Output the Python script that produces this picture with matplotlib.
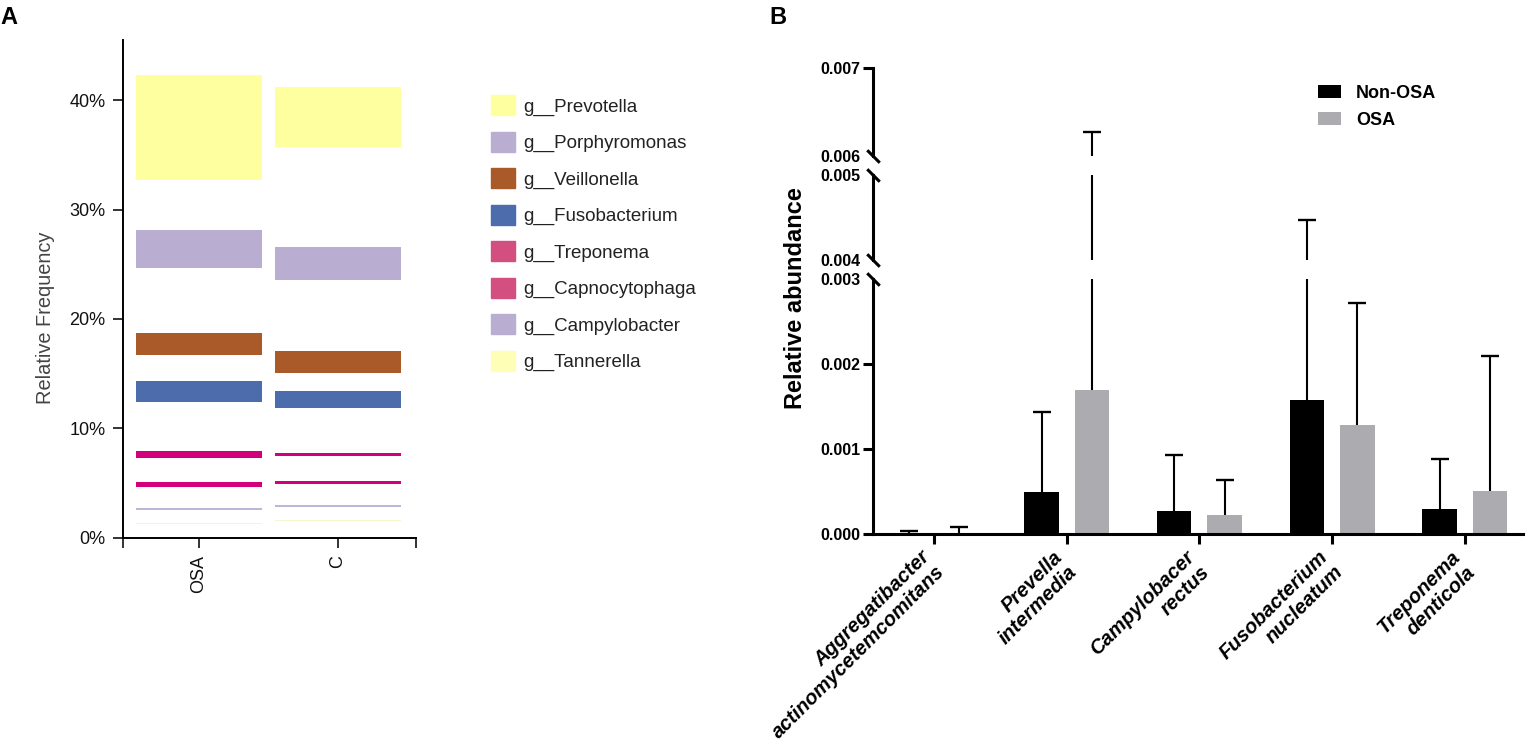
import numpy as np
import matplotlib.pyplot as plt
from matplotlib.patches import Patch
from matplotlib.ticker import FormatStrFormatter

plt.rcParams['font.family'] = ['Liberation Sans', 'DejaVu Sans']

# panel A data (percent, floating range per genus)
groups = ['OSA', 'C']
genera = ['g__Prevotella', 'g__Porphyromonas', 'g__Veillonella', 'g__Fusobacterium',
          'g__Treponema', 'g__Capnocytophaga', 'g__Campylobacter', 'g__Tannerella']
osa_bottom = [32.7, 24.65, 16.7, 12.4, 7.3, 4.65, 2.55, 1.27]
osa_top = [42.3, 28.15, 18.7, 14.35, 7.9, 5.05, 2.7, 1.37]
c_bottom = [35.7, 23.6, 15.05, 11.85, 7.45, 4.9, 2.85, 1.53]
c_top = [41.2, 26.6, 17.1, 13.45, 7.75, 5.15, 3.0, 1.63]
bar_colors = ['#feff9e', '#b9aed2', '#a95a28', '#4c6cab', '#d3007b', '#d3007b', '#bdb6da', '#f5f6cf']
legend_colors = ['#feff9e', '#b9aed2', '#a95a28', '#4c6cab', '#d24f80', '#d24f80', '#b9aed2', '#fefeb6']

# panel B data
species = ['Aggregatibacter\nactinomycetemcomitans', 'Prevella\nintermedia',
           'Campylobacer\nrectus', 'Fusobacterium\nnucleatum', 'Treponema\ndenticola']
non_osa_mean = [0.00001, 0.00049, 0.00027, 0.00158, 0.00029]
non_osa_err = [0.00002, 0.00095, 0.00066, 0.00289, 0.00059]
osa_mean = [0.000005, 0.00169, 0.00022, 0.00128, 0.00051]
osa_err = [0.000077, 0.00458, 0.00041, 0.00144, 0.00158]

fig = plt.figure(figsize=(15.36, 7.51), dpi=100)

# ---------- A ----------
axA = fig.add_axes([0.0799, 0.284, 0.1908, 0.6627])
xA = np.arange(len(groups))
for i in range(len(genera)):
    axA.bar(xA, [osa_top[i] - osa_bottom[i], c_top[i] - c_bottom[i]],
            bottom=[osa_bottom[i], c_bottom[i]], width=0.906, color=bar_colors[i])
axA.set_xlim(-0.549, 1.559)
axA.set_ylim(0, 45.5)
for s in ['top', 'right']:
    axA.spines[s].set_visible(False)
for s in ['left', 'bottom']:
    axA.spines[s].set_linewidth(1.4)
axA.set_yticks([0, 10, 20, 30, 40])
axA.yaxis.set_major_formatter(FormatStrFormatter('%d%%'))
axA.set_xticks(xA)
axA.set_xticklabels(groups, rotation=90)
axA.set_xticks([-0.549, 1.559], minor=True)
axA.tick_params(which='both', length=7.5, width=1.2, labelsize=13, pad=5, colors='#111')
axA.set_ylabel('Relative Frequency', fontsize=14.4, color='#444')
axA.yaxis.set_label_coords(-0.231, 0.441)

fig.legend([Patch(color=c) for c in legend_colors], genera, loc='upper left',
           bbox_to_anchor=(0.3197, 0.8735), frameon=False, fontsize=13.5,
           handlelength=1.28, handleheight=1.28, handletextpad=0.43,
           labelspacing=0.85, borderpad=0, borderaxespad=0, labelcolor='#222')

# ---------- B (broken y axis) ----------
left, width = 0.5684, 0.4232
bot = fig.add_axes([left, 0.2889, width, 0.3396])
mid = fig.add_axes([left, 0.6538, width, 0.1132])
top = fig.add_axes([left, 0.7923, width, 0.1172])

xB = np.arange(len(species))
w = 0.26
off = 0.19
for ax in [bot, mid, top]:
    b1 = ax.bar(xB - off, non_osa_mean, w, color='black', label='Non-OSA')
    b2 = ax.bar(xB + off, osa_mean, w, color='#acacb0', label='OSA')
    for xs, m, e in [(xB - off, non_osa_mean, non_osa_err), (xB + off, osa_mean, osa_err)]:
        eb = ax.errorbar(xs, m, yerr=[np.zeros(len(m)), e], fmt='none', ecolor='black',
                         elinewidth=1.5, capsize=6.5, capthick=1.7)
        eb[2][0].set_capstyle('butt')
        eb[1][0].set_visible(False)
    ax.set_xlim(-0.46, 4.44)
    for s in ['top', 'right']:
        ax.spines[s].set_visible(False)
    ax.spines['left'].set_linewidth(2.2)
    ax.yaxis.set_major_formatter(FormatStrFormatter('%.3f'))
    ax.tick_params(axis='y', length=7, width=2.2, labelsize=11.5, pad=2)

bot.set_ylim(0, 0.003)
mid.set_ylim(0.004, 0.005)
top.set_ylim(0.006, 0.007)
bot.set_yticks([0, 0.001, 0.002, 0.003])
mid.set_yticks([0.004, 0.005])
top.set_yticks([0.006, 0.007])
for ax in [bot, mid, top]:
    for lab in ax.get_yticklabels():
        lab.set_fontweight('bold')
bot.yaxis.get_major_ticks()[-1].tick1line.set_visible(False)
for t in mid.yaxis.get_major_ticks():
    t.tick1line.set_visible(False)
top.yaxis.get_major_ticks()[0].tick1line.set_visible(False)

for ax in [mid, top]:
    ax.spines['bottom'].set_visible(False)
    ax.set_xticks([])
bot.spines['bottom'].set_linewidth(2.2)
bot.set_xticks(xB)
bot.set_xticklabels(species, rotation=45, ha='right', va='center', rotation_mode='anchor',
                    fontstyle='italic', fontweight='bold', fontsize=14.5,
                    multialignment='right', linespacing=1.15)
bot.tick_params(axis='x', length=7, width=2.2, pad=13)

# break marks on the left spine
slash = [(-1, 1), (1, -1)]
for ax, yy in [(bot, 1), (mid, 0), (mid, 1), (top, 0)]:
    ax.plot([0], [yy], transform=ax.transAxes, marker=slash, ms=9, mew=2.2,
            color='black', clip_on=False)

fig.text(0.5176, 0.603, 'Relative abundance', rotation=90, fontsize=17,
         fontweight='bold', ha='center', va='center')

fig.legend([b1, b2], ['Non-OSA', 'OSA'], loc='upper left', bbox_to_anchor=(0.858, 0.887),
           frameon=False, prop={'weight': 'bold', 'size': 13}, handlelength=1.28,
           handleheight=0.67, handletextpad=0.83, labelspacing=0.55,
           borderpad=0, borderaxespad=0)

fig.text(0.0, 0.992, 'A', fontsize=17, fontweight='bold', ha='left', va='top')
fig.text(0.501, 0.992, 'B', fontsize=17, fontweight='bold', ha='left', va='top')

fig.savefig('out.png', dpi=100)
